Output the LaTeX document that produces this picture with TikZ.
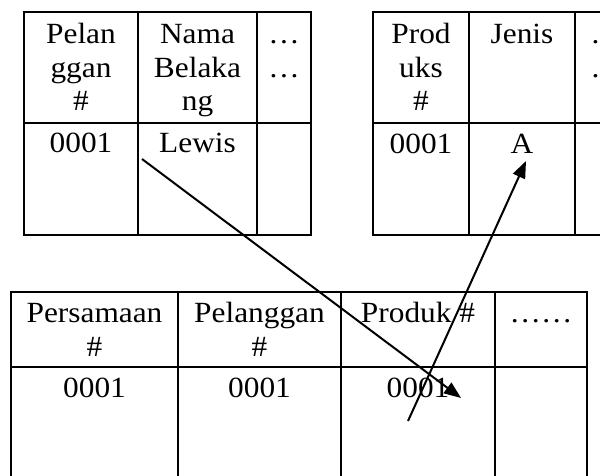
\documentclass[tikz,border=0pt]{standalone}
\usepackage{fontspec}
\setmainfont{Liberation Serif}[FakeStretch=1.07]
\usetikzlibrary{arrows.meta}
\begin{document}
\begin{tikzpicture}[x=1pt,y=-1pt,
  grid/.style={line width=2pt},
  txt/.style={inner sep=0pt, anchor=base, font=\fontsize{29.3}{34}\selectfont},
  link/.style={line width=2pt, -{Triangle[length=17pt,width=13pt]}}]
\useasboundingbox (0,0) rectangle (600,475);
% Table 1
\draw[grid] (24,12) rectangle (311,235);
\draw[grid] (24,123) -- (311,123);
\draw[grid] (138,12) -- (138,235);
\draw[grid] (257,12) -- (257,235);
% Table 2
\draw[grid] (640,12) -- (373,12) -- (373,235) -- (640,235);
\draw[grid] (373,123) -- (640,123);
\draw[grid] (469,12) -- (469,235);
\draw[grid] (575,12) -- (575,235);
% Table 3
\draw[grid] (11,490) -- (11,292) -- (587,292) -- (587,490);
\draw[grid] (11,367) -- (587,367);
\draw[grid] (178,292) -- (178,490);
\draw[grid] (341,292) -- (341,490);
\draw[grid] (495,292) -- (495,490);
% Table 1 texts
\node[txt] (a11) at (81,43) {Pelan};
\node[txt] (a12) at (81,77) {ggan};
\node[txt] (a13) at (81,110) {\#};
\node[txt] (a21) at (197.5,43) {Nama};
\node[txt] (a22) at (197.5,77) {Belaka};
\node[txt] (a23) at (197.5,110) {ng};
\node[txt] (a31) at (284,43) {…};
\node[txt] (a32) at (284,77) {…};
\node[txt] (ad1) at (81,152) {0001};
\node[txt] (ad2) at (197.5,152) {Lewis};
% Table 2 texts
\node[txt] (b11) at (421,43) {Prod};
\node[txt] (b12) at (421,77) {uks};
\node[txt] (b13) at (421,110) {\#};
\node[txt] (b21) at (522,43) {Jenis};
\node[txt] (b31) at (606,43) {…};
\node[txt] (b32) at (606,77) {…};
\node[txt] (bd1) at (421,153) {0001};
\node[txt] (bd2) at (522,153) {A};
% Table 3 texts
\node[txt] (c11) at (94.5,322) {Persamaan};
\node[txt] (c12) at (94.5,356) {\#};
\node[txt] (c21) at (259.5,322) {Pelanggan};
\node[txt] (c22) at (259.5,356) {\#};
\node[txt] (c31) at (418,322) {Produk \#};
\node[txt] (c41) at (541,322) {……};
\node[txt] (cd1) at (94.5,397) {0001};
\node[txt] (cd2) at (259.5,397) {0001};
\node[txt] (cd3) at (418,397) {0001};
% Connectors
\coordinate (p1) at (142,159);
\coordinate (q1) at (461,398);
\coordinate (p2) at (408,421);
\coordinate (q2) at (526,161);
\draw[link] (p1) -- (q1);
\draw[link] (p2) -- (q2);
\end{tikzpicture}
\end{document}
